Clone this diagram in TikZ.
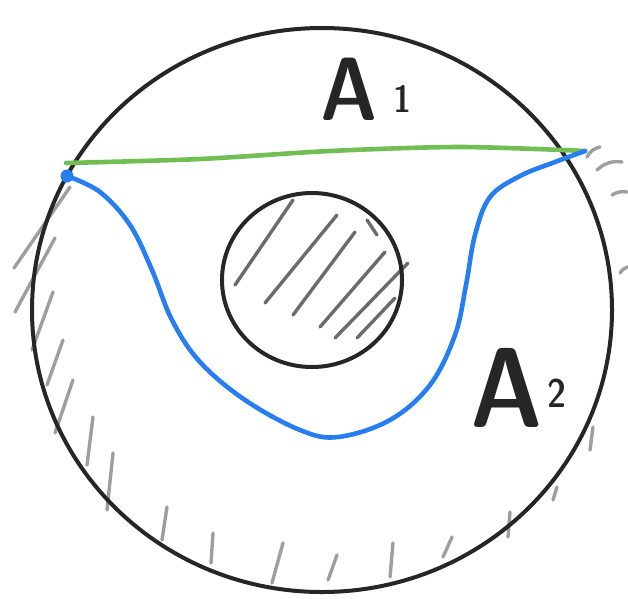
\documentclass[tikz,border=0pt]{standalone}
\usetikzlibrary{positioning}

\definecolor{sketchgreen}{RGB}{112,190,84}
\definecolor{sketchblue}{RGB}{38,126,240}

\begin{document}
\begin{tikzpicture}[x=1pt, y=-1pt,
    rim/.style={draw=black!85, line width=4pt},
    hatch/.style={draw=black!38, line width=3.4pt, line cap=round},
    inhatch/.style={draw=black!58, line width=3.4pt, line cap=round},
    cut/.style={line width=4.6pt, line cap=round},
    region/.style={inner sep=0pt, text=black!85}
  ]
  \useasboundingbox (0,0) rectangle (628,598);

  % hatching outside, left and bottom
  \foreach \xa/\ya/\xb/\yb in {70/187/14/268, 55/238/15/312, 53/292/32/350,
      63/340/47/385, 73/380/55/433, 93/417/87/465, 113/453/107/510,
      167/507/162/540, 213/533/211/563, 283/543/272/583, 337/555/328/580,
      393/543/390/577, 452/537/443/557, 510/512/508/537, 557/487/553/500,
      593/427/590/450}
    \draw[hatch] (\xa,\ya) -- (\xb,\yb);
  % hatching outside, right
  \draw[hatch] (587,157) to[bend left=25] (600,147);
  \draw[hatch] (597,170) to[bend left=25] (622,162);
  \draw[hatch] (612,195) to[bend left=20] (627,192);
  \draw[hatch] (620,273) to[bend left=20] (628,267);

  % outer disc
  \draw[rim] (322,310) ellipse [x radius=290, y radius=282];

  % hole
  \foreach \xa/\ya/\xb/\yb in {235/285/293/200, 265/303/337/215,
      293/315/355/232, 320/327/385/252, 335/338/408/263, 357/338/395/298,
      367/220/377/235}
    \draw[inhatch] (\xa,\ya) -- (\xb,\yb);
  \draw[rim] (312,280) ellipse [x radius=90, y radius=87];

  % the two cuts
  \coordinate (p) at (66,163);
  \coordinate (q) at (585,151);
  \draw[cut, sketchgreen] plot[smooth] coordinates {(p) (200,159) (330,151) (460,147) (q)};
  \fill[sketchblue] (67,176) circle (6.5);
  \draw[cut, sketchblue] plot[smooth, tension=0.6] coordinates {(67,176) (100,192)
      (130,225) (152,270) (172,320) (200,362) (245,400) (300,430) (338,437)
      (390,420) (430,385) (455,335) (466,285) (475,235) (490,197) (520,176)
      (555,162) (q)};

  % region labels
  \node[region, anchor=base west, font=\sffamily\fontseries{sbc}\fontsize{90}{90}\selectfont] (a1) at (320,120) {A};
  \node[region, font=\sffamily\fontseries{sbc}\fontsize{38}{38}\selectfont, right=16pt of a1.base east, anchor=base west, yshift=8pt] (n1) {1};
  \node[region, anchor=base west, font=\sffamily\fontseries{sbc}\fontsize{114}{114}\selectfont] (a2) at (470,427) {A};
  \node[region, font=\sffamily\fontseries{sbc}\fontsize{40}{40}\selectfont, right=4pt of a2.base east, anchor=base west, yshift=20pt] (n2) {2};
\end{tikzpicture}
\end{document}
